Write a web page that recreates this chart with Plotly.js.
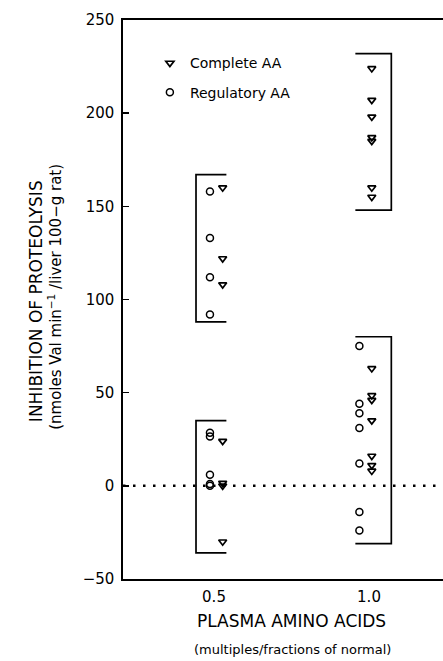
<!DOCTYPE html>
<html>
<head>
<meta charset="utf-8">
<script src="https://cdn.plot.ly/plotly-3.0.1.min.js"></script>
<style>
  html, body { margin: 0; padding: 0; background: #fff; }
  #myDiv { width: 443px; height: 661px; }
</style>
</head>
<body>
<div id="myDiv"></div>
<script>
// plasma amino acid levels (multiples of normal)
const niveis = [0.5, 1.0]

// x where the symbols were plotted (side by side around each level)
const xRegulatory = [0.487, 0.969]
const xComplete = [0.528, 1.009]

// Complete AA (triangles)
const complete05 = [160, 122, 108, 24, 1.5, 0, -30]
const complete10 = [224, 207, 198, 187, 185, 160, 155, 63, 48.5, 46, 35, 16, 11, 8]

// Regulatory AA (circles)
const regulatory05 = [158, 133, 112, 92, 28.5, 26.5, 6, 1, 0]
const regulatory10 = [75, 44, 39, 31, 12, -14, -24]

// ranges shown by the brackets: [nivel, low, high]
const faixas = [
  [0.5, 88, 167],
  [0.5, -36, 35],
  [1.0, 148, 232],
  [1.0, -31, 80],
]

const yTicks = [-50, 0, 50, 100, 150, 200, 250]
const xTicks = ["0.5", "1.0"]

const fonte = "DejaVu Sans, Liberation Sans, Arial, sans-serif"

function pontos(xs, ys) {
  return ys.map(() => xs)
}

const traces = []

// brackets: "[" at 0.5, "]" at 1.0
faixas.forEach((f) => {
  const nivel = f[0]
  const lado = nivel < 0.75 ? -1 : 1
  const xv = nivel + lado * (lado < 0 ? 0.058 : 0.072)
  const xh = nivel - lado * (lado < 0 ? 0.04 : 0.044)
  traces.push({
    x: [xh, xv, xv, xh],
    y: [f[2], f[2], f[1], f[1]],
    mode: "lines",
    type: "scatter",
    line: { color: "#000", width: 1.7 },
    hoverinfo: "skip",
    showlegend: false,
  })
})

traces.push({
  x: pontos(xComplete[0], complete05).concat(pontos(xComplete[1], complete10)),
  y: complete05.concat(complete10),
  mode: "markers",
  type: "scatter",
  name: "Complete AA",
  legendgroup: "c",
  marker: {
    symbol: "triangle-down-open",
    size: 7,
    color: "#000",
    line: { color: "#000", width: 1.7 },
  },
})

traces.push({
  x: pontos(xRegulatory[0], regulatory05).concat(
    pontos(xRegulatory[1], regulatory10)
  ),
  y: regulatory05.concat(regulatory10),
  mode: "markers",
  type: "scatter",
  name: "Regulatory AA",
  legendgroup: "r",
  marker: {
    symbol: "circle-open",
    size: 7,
    color: "#000",
    line: { color: "#000", width: 1.5 },
  },
})

const layout = {
  width: 443,
  height: 661,
  margin: { l: 123, r: 0, t: 20, b: 82 },
  paper_bgcolor: "#fff",
  plot_bgcolor: "#fff",
  font: { family: fonte, color: "#000", size: 15 },
  showlegend: true,
  legend: {
    x: 0.084,
    y: 0.951,
    xanchor: "left",
    yanchor: "top",
    bgcolor: "rgba(0,0,0,0)",
    font: { family: fonte, size: 14, color: "#000" },
    tracegroupgap: 8,
    itemclick: false,
  },
  xaxis: {
    range: [0.2065, 1.2387],
    tickvals: niveis,
    ticktext: xTicks,
    ticks: "",
    showline: true,
    linecolor: "#000",
    linewidth: 1.7,
    mirror: true,
    showgrid: false,
    zeroline: false,
    tickfont: { family: fonte, size: 15 },
    ticklabelstandoff: 3,
  },
  yaxis: {
    range: [-50, 250],
    tickvals: yTicks,
    ticks: "inside",
    ticklen: 6,
    tickwidth: 1.5,
    tickcolor: "#000",
    showline: true,
    linecolor: "#000",
    linewidth: 1.7,
    showgrid: false,
    zeroline: false,
    tickfont: { family: fonte, size: 15 },
    ticklabelstandoff: 4,
  },
  shapes: [
    {
      type: "line",
      xref: "paper",
      yref: "y",
      x0: 0,
      x1: 1,
      y0: 0,
      y1: 0,
      layer: "below",
      line: { color: "#000", width: 2.5, dash: "2.5px,7.5px" },
    },
  ],
  annotations: [
    {
      text: "INHIBITION OF PROTEOLYSIS",
      xref: "paper",
      yref: "paper",
      x: -0.272,
      y: 0.497,
      xanchor: "center",
      yanchor: "middle",
      textangle: -90,
      showarrow: false,
      font: { family: fonte, size: 17 },
    },
    {
      text: "(nmoles Val min<sup>−1</sup> /liver 100−g rat)",
      xref: "paper",
      yref: "paper",
      x: -0.213,
      y: 0.5045,
      xanchor: "center",
      yanchor: "middle",
      textangle: -90,
      showarrow: false,
      font: { family: fonte, size: 15 },
    },
    {
      text: "PLASMA AMINO ACIDS",
      xref: "paper",
      yref: "paper",
      x: 0.528,
      y: -0.0751,
      xanchor: "center",
      yanchor: "middle",
      showarrow: false,
      font: { family: fonte, size: 17 },
    },
    {
      text: "(multiples/fractions of normal)",
      xref: "paper",
      yref: "paper",
      x: 0.531,
      y: -0.127,
      xanchor: "center",
      yanchor: "middle",
      showarrow: false,
      font: { family: fonte, size: 13 },
    },
  ],
}

Plotly.newPlot("myDiv", traces, layout, { staticPlot: true })
</script>
</body>
</html>
